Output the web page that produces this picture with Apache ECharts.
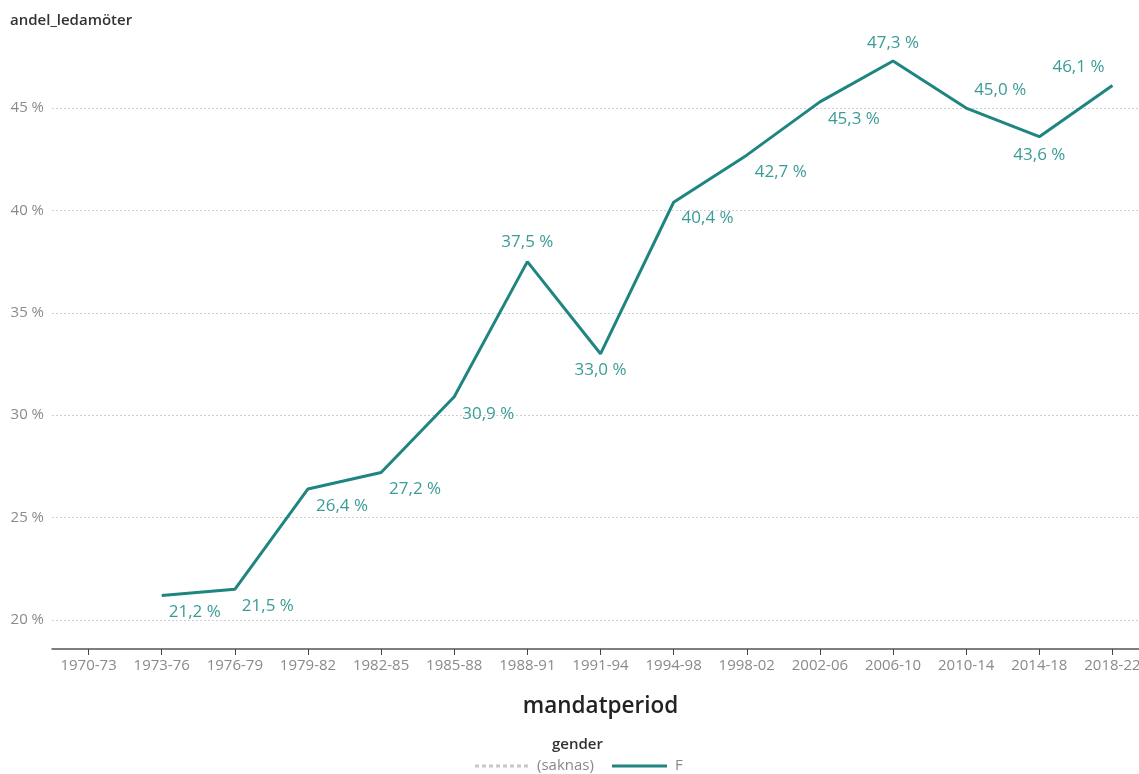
<!DOCTYPE html>
<html>
<head>
<meta charset="utf-8">
<script src="https://cdn.jsdelivr.net/npm/echarts@6/dist/echarts.min.js"></script>
<style>
html,body{margin:0;padding:0;background:#fff;}
#chart{width:1139px;height:774px;}
</style>
</head>
<body>
<div id="chart"></div>
<script>
const categories = ['1970-73','1973-76','1976-79','1979-82','1982-85','1985-88','1988-91','1991-94','1994-98','1998-02','2002-06','2006-10','2010-14','2014-18','2018-22'];
const valuesF = [null, 21.2, 21.5, 26.4, 27.2, 30.9, 37.5, 33.0, 40.4, 42.7, 45.3, 47.3, 45.0, 43.6, 46.1];
const valuesSaknas = [];
const yTicks = [20, 25, 30, 35, 40, 45];
const legendNames = ['(saknas)', 'F'];

// label placement per point: [dx, dy]
const labelOffsets = [
  null, [33,17],[33,17],[34,17],[34,17],[34,17],[0,-19],[0,16],[34,16],[34,17],[34,17],[0,-18],[34,-18],[0,18],[-34,-18]
];

const FONT = 'Open Sans, Noto Sans, sans-serif';
const TEAL = '#1e8580';
const GREY_DASH = '#c8c8c8';

const dataF = valuesF.map((v, i) => {
  if (v === null) return null;
  return {
    value: v,
    label: { position: 'inside', offset: labelOffsets[i] }
  };
});

const chart = echarts.init(document.getElementById('chart'), null, {renderer: 'canvas'});
chart.setOption({
  animation: false,
  textStyle: { fontFamily: FONT },
  title: {
    text: 'andel_ledamöter',
    left: 5, top: 8,
    textStyle: { fontSize: 15, fontWeight: 600, color: '#333', fontFamily: FONT }
  },
  grid: { left: 52, width: 1097, top: 46.6, bottom: 154, containLabel: false, outerBoundsMode: 'none' },
  xAxis: {
    type: 'category',
    data: categories,
    boundaryGap: true,
    offset: 29,
    axisLine: { show: true, lineStyle: { color: '#555', width: 1.5 } },
    axisTick: { show: true, alignWithLabel: true, length: 6, lineStyle: { color: '#444' } },
    axisLabel: { color: '#8a8a8a', fontSize: 15, margin: 9, interval: 0, hideOverlap: false, fontFamily: FONT },
    name: 'mandatperiod',
    nameLocation: 'middle',
    nameGap: 46,
    nameTextStyle: { fontSize: 22.5, fontWeight: 600, color: '#222', fontFamily: FONT }
  },
  yAxis: {
    type: 'value',
    min: 20, max: 48, interval: 5,
    axisLine: { show: false },
    axisTick: { show: false },
    axisLabel: {
      color: '#8a8a8a', fontSize: 15, margin: 8, fontFamily: FONT,
      showMaxLabel: false,
      formatter: v => yTicks.includes(v) ? v + ' %' : ''
    },
    splitLine: { show: true, showMaxLine: false, lineStyle: { color: '#cfcfcf', type: [2, 2], width: 1 } }
  },
  graphic: [
    { type: 'text', left: 552, top: 737,
      style: { text: 'gender', fontSize: 15, fontWeight: 600, fill: '#333', fontFamily: FONT } },
    { type: 'line', shape: { x1: 475, y1: 766, x2: 530, y2: 766 },
      style: { stroke: GREY_DASH, lineWidth: 3, lineDash: [4, 3] } },
    { type: 'text', left: 537, top: 758,
      style: { text: legendNames[0], fontSize: 15, fill: '#888', fontFamily: FONT } },
    { type: 'line', shape: { x1: 612, y1: 766, x2: 667, y2: 766 },
      style: { stroke: TEAL, lineWidth: 3 } },
    { type: 'text', left: 675, top: 758,
      style: { text: legendNames[1], fontSize: 15, fill: '#888', fontFamily: FONT } }
  ],
  series: [
    {
      name: legendNames[0],
      type: 'line',
      data: valuesSaknas,
      symbol: 'none',
      lineStyle: { color: GREY_DASH, type: [4, 3], width: 3 }
    },
    {
      name: legendNames[1],
      type: 'line',
      data: dataF,
      symbol: 'circle',
      symbolSize: 0,
      showSymbol: true,
      connectNulls: false,
      lineStyle: { color: TEAL, width: 3 },
      itemStyle: { color: TEAL },
      label: {
        show: true,
        formatter: p => p.value.toFixed(1).replace('.', ',') + ' %',
        color: '#3a9c96',
        fontSize: 17,
        fontFamily: FONT
      }
    }
  ]
});
</script>
</body>
</html>
